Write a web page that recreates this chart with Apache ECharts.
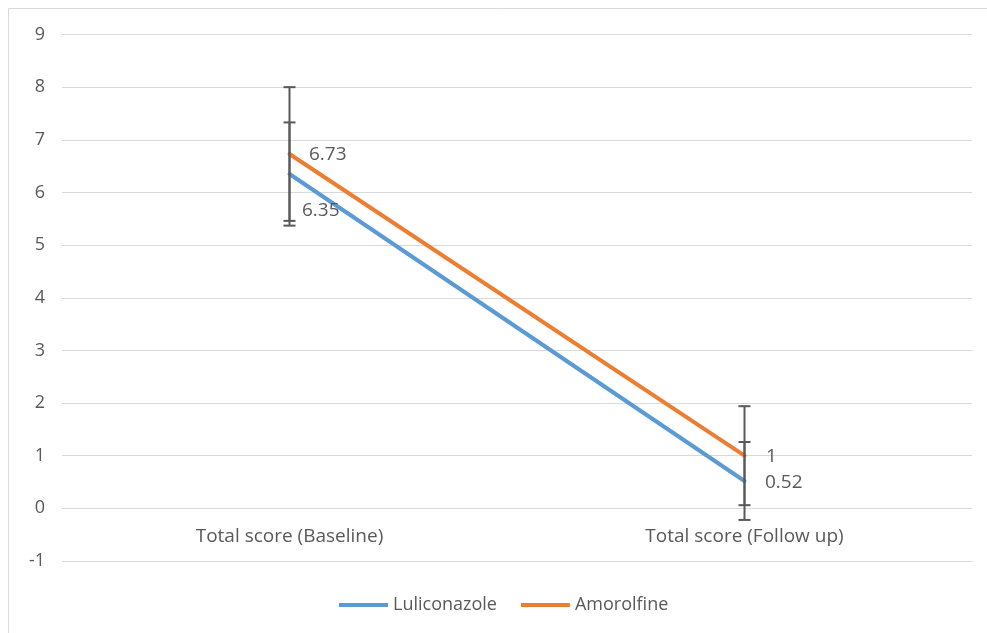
<!DOCTYPE html>
<html><head><meta charset="utf-8">
<script src="https://cdn.jsdelivr.net/npm/echarts@6/dist/echarts.min.js"></script>
<style>html,body{margin:0;padding:0;background:#fff}#c{width:987px;height:633px}</style>
</head><body><div id="c"></div>
<script>
const categories = ['Total score (Baseline)', 'Total score (Follow up)'];
const luliconazole = [6.35, 0.52];
const amorolfine = [6.73, 1];
const luliErr = [0.98, 0.74];
const amoroErr = [1.27, 0.94];
const yTicks = {min: -1, max: 9, interval: 1};

const chart = echarts.init(document.getElementById('c'));
const txt = '#595959';
const font = '"Open Sans", "Noto Sans", sans-serif';
const fs = 18;

function errSeries(name, vals, errs) {
  return {
    type: 'custom', name: name + ' err', silent: true, z: 5,
    data: vals.map((v, i) => [i, v - errs[i], v + errs[i]]),
    renderItem: function (params, api) {
      const x = api.value(0);
      const lo = api.coord([x, api.value(1)]);
      const hi = api.coord([x, api.value(2)]);
      const w = 6;
      const st = {stroke: '#595959', lineWidth: 2};
      return {type: 'group', children: [
        {type: 'line', shape: {x1: lo[0], y1: lo[1], x2: hi[0], y2: hi[1]}, style: st},
        {type: 'line', shape: {x1: lo[0]-w, y1: lo[1], x2: lo[0]+w, y2: lo[1]}, style: st},
        {type: 'line', shape: {x1: hi[0]-w, y1: hi[1], x2: hi[0]+w, y2: hi[1]}, style: st}
      ]};
    }
  };
}

function lineSeries(name, data, color, z, offsets) {
  return {
    name: name, type: 'line', data: data, z: z,
    symbol: 'circle', symbolSize: 3, showSymbol: true,
    lineStyle: {color: color, width: 4, cap: 'round'}, itemStyle: {color: color},
    label: {show: true, position: 'right', distance: 0, color: txt, fontSize: 19, fontFamily: font,
      formatter: p => String(p.value)},
    labelLayout: function (p) { return offsets[p.dataIndex]; }
  };
}

chart.setOption({
  animation: false,
  textStyle: {fontFamily: font},
  graphic: [{type: 'rect', shape: {x: 8.5, y: 8.5, width: 990, height: 640}, style: {fill: 'none', stroke: '#d9d9d9', lineWidth: 1}, silent: true}],
  grid: {left: 62, right: 15, top: 34.5, bottom: 72},
  legend: {
    bottom: 14, left: 334, itemWidth: 49, itemHeight: 4, itemGap: 24,
    icon: 'rect',
    data: ['Luliconazole', 'Amorolfine'],
    textStyle: {color: txt, fontSize: fs, fontFamily: font, padding: [0, 0, 0, 0]}
  },
  xAxis: {
    type: 'category', data: categories, boundaryGap: true,
    offset: -52.65,
    axisLine: {show: true, onZero: false, lineStyle: {color: '#d9d9d9'}},
    axisTick: {show: false},
    axisLabel: {color: txt, fontSize: 19, margin: 19, fontFamily: font}
  },
  yAxis: {
    type: 'value', min: yTicks.min, max: yTicks.max, interval: yTicks.interval,
    axisLine: {show: false}, axisTick: {show: false},
    axisLabel: {color: txt, fontSize: fs, margin: 17, fontFamily: font},
    splitLine: {lineStyle: {color: '#d9d9d9', width: 1}}
  },
  series: [
    lineSeries('Luliconazole', luliconazole, '#5B9BD5', 3, [{dx: 11, dy: 37}, {dx: 19, dy: 2}]),
    lineSeries('Amorolfine', amorolfine, '#ED7D31', 4, [{dx: 18, dy: 1}, {dx: 20, dy: 1}]),
    errSeries('Luliconazole', luliconazole, luliErr),
    errSeries('Amorolfine', amorolfine, amoroErr)
  ]
});
</script></body></html>
